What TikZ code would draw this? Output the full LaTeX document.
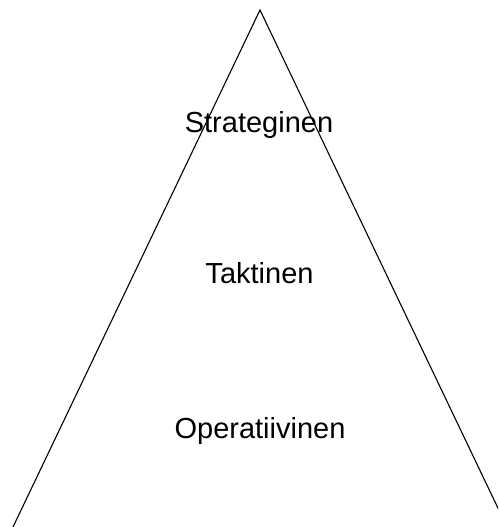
\documentclass[tikz,border=0pt]{standalone}
\usepackage{fontspec}
\setmainfont{Liberation Sans}
\usetikzlibrary{positioning}
\tikzstyle{side}=[line width=1.1pt,line cap=round]
\tikzstyle{level}=[anchor=base,inner sep=0pt,font=\fontsize{29}{35}\selectfont]

\begin{document}
\begin{tikzpicture}[x=1pt,y=-1pt]
  \useasboundingbox (0,0) rectangle (498,527);
  \clip (0,0) rectangle (498,527);
  % triangle corners
  \coordinate (apex) at (260,10);
  \coordinate (baseleft) at (13,527);
  \coordinate (baseright) at (507,527);
  \draw[side] (baseleft) -- (apex) -- (baseright);
  % levels
  \node[level] (strat) at (259,132) {Strateginen};
  \node[level] (takt) at (259.5,283) {Taktinen};
  \node[level] (oper) at (260,438) {Operatiivinen};
\end{tikzpicture}
\end{document}
